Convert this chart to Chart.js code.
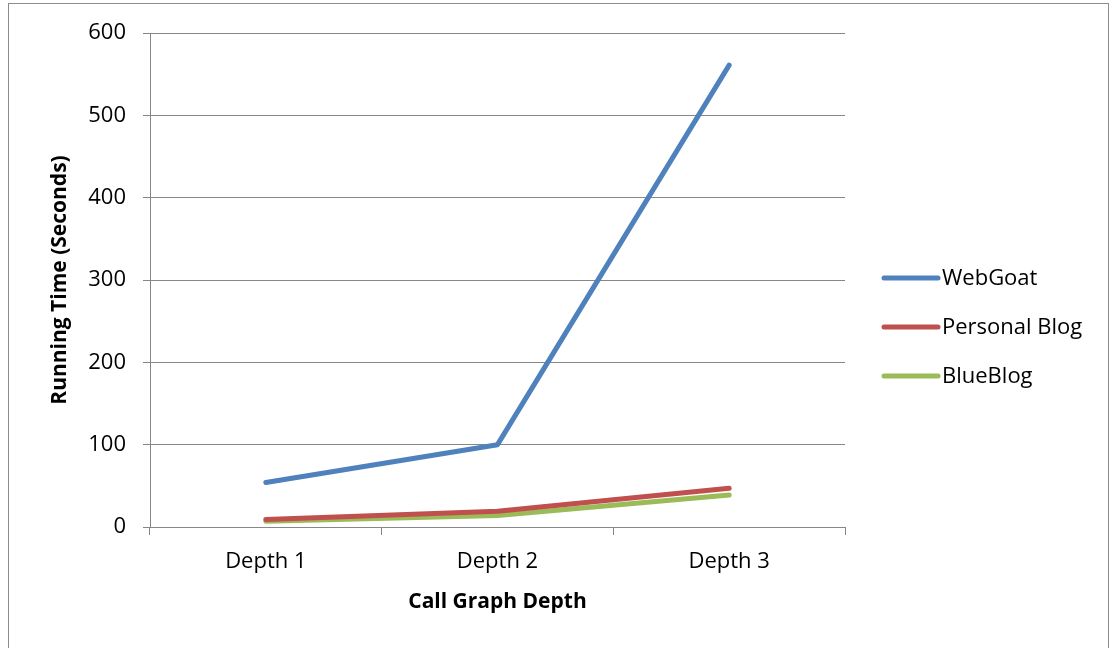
<!DOCTYPE html>
<html lang="en">
<head>
  <meta charset="UTF-8">
  <title>Running Time by Call Graph Depth</title>
  <script src="https://cdn.jsdelivr.net/npm/chart.js"></script>
  <style>
    body { margin: 0; background: #fff; }
    #wrap { position: relative; width: 1110px; height: 648px; overflow: hidden; }
    #frame { position: absolute; left: 8px; top: 3px; width: 1099px; height: 700px; border: 1px solid #8c8c8c; }
    canvas { position: absolute; left: 0; top: 0; }
  </style>
</head>
<body>
  <div id="wrap">
    <div id="frame"></div>
    <canvas id="depthChart" width="1110" height="648"></canvas>
  </div>

  <script>
    // Data
    const depths = ['Depth 1', 'Depth 2', 'Depth 3'];
    const webGoat = [54, 100, 561];
    const personalBlog = [9, 19, 47];
    const blueBlog = [7, 14, 39];
    const yTicks = [0, 100, 200, 300, 400, 500, 600];

    const font = "'Open Sans', 'Liberation Sans', sans-serif";
    const gridGray = '#878787';

    // legend drawn as line samples on the right, like the original
    const lineLegend = {
      id: 'lineLegend',
      afterDraw(chart) {
        const ctx = chart.ctx;
        const x0 = 884, x1 = 938;
        let y = 278;
        ctx.save();
        ctx.font = '22px ' + font;
        ctx.textBaseline = 'middle';
        chart.data.datasets.forEach(ds => {
          ctx.strokeStyle = ds.borderColor;
          ctx.lineWidth = 5;
          ctx.lineCap = 'round';
          ctx.beginPath();
          ctx.moveTo(x0, y);
          ctx.lineTo(x1, y);
          ctx.stroke();
          ctx.fillStyle = '#000';
          ctx.fillText(ds.label, 942, y + 1);
          y += 49;
        });
        ctx.restore();
      }
    };

    const ctx = document.getElementById('depthChart').getContext('2d');
    const chart = new Chart(ctx, {
      type: 'line',
      data: {
        labels: depths,
        datasets: [
          { label: 'WebGoat', data: webGoat, borderColor: '#4F81BD' },
          { label: 'Personal Blog', data: personalBlog, borderColor: '#C0504D' },
          { label: 'BlueBlog', data: blueBlog, borderColor: '#9BBB59' }
        ]
      },
      options: {
        responsive: false,
        animation: false,
        layout: { padding: { top: 33, right: 265, left: 0, bottom: 0 } },
        elements: {
          line: { borderWidth: 5, tension: 0, borderCapStyle: 'round', borderJoinStyle: 'round', fill: false },
          point: { radius: 0, hoverRadius: 0 }
        },
        plugins: {
          legend: { display: false },
          tooltip: { enabled: false }
        },
        scales: {
          x: {
            offset: true,
            afterFit: s => { s.height = 121; },
            grid: { drawOnChartArea: false, drawTicks: true, tickLength: 8, color: gridGray, offset: true },
            border: { color: gridGray, width: 1 },
            ticks: { color: '#000', font: { family: font, size: 22 }, padding: 14 },
            title: { display: true, text: 'Call Graph Depth', color: '#000', font: { family: font, size: 21, weight: 'bold' }, padding: { top: 0, bottom: 33 } }
          },
          y: {
            min: 0,
            max: 600,
            afterFit: s => { s.width = 150; },
            afterBuildTicks: s => { s.ticks = yTicks.map(v => ({ value: v })); },
            grid: { color: gridGray, tickLength: 7, lineWidth: 1 },
            border: { color: gridGray, width: 1 },
            ticks: { color: '#000', font: { family: font, size: 22 }, padding: 17 },
            title: { display: true, text: 'Running Time (Seconds)', color: '#000', font: { family: font, size: 21, weight: 'bold' }, padding: { top: 47, bottom: 0 } }
          }
        }
      },
      plugins: [lineLegend]
    });
  </script>
</body>
</html>
